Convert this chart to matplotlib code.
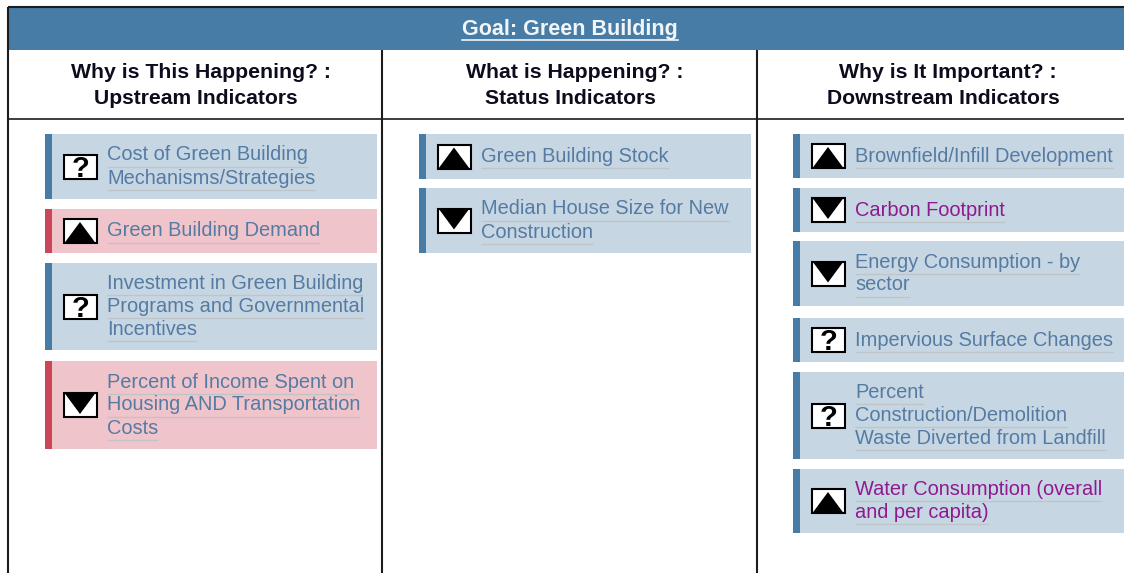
import matplotlib
matplotlib.use('Agg')
import matplotlib.pyplot as plt
from matplotlib.patches import Rectangle, Polygon

plt.rcParams['font.family'] = ['Liberation Sans', 'DejaVu Sans']

W, H = 1124, 573

goal_title = 'Goal: Green Building'
column_titles = [
    ['Why is This Happening? :', 'Upstream Indicators'],
    ['What is Happening? :', 'Status Indicators'],
    ['Why is It Important? :', 'Downstream Indicators'],
]

# indicator text, one list per column
upstream_labels = [
    ['Cost of Green Building', 'Mechanisms/Strategies'],
    ['Green Building Demand'],
    ['Investment in Green Building', 'Programs and Governmental', 'Incentives'],
    ['Percent of Income Spent on', 'Housing AND Transportation', 'Costs'],
]
status_labels = [
    ['Green Building Stock'],
    ['Median House Size for New', 'Construction'],
]
downstream_labels = [
    ['Brownfield/Infill Development'],
    ['Carbon Footprint'],
    ['Energy Consumption - by', 'sector'],
    ['Impervious Surface Changes'],
    ['Percent', 'Construction/Demolition', 'Waste Diverted from Landfill'],
    ['Water Consumption (overall', 'and per capita)'],
]

# trend: u = up, d = down, q = unknown
upstream_trend = ['q', 'u', 'q', 'd']
status_trend = ['u', 'd']
downstream_trend = ['u', 'd', 'd', 'q', 'q', 'u']

upstream_alert = [False, True, False, True]
status_alert = [False, False]
downstream_alert = [False] * 6

upstream_visited = [False] * 4
status_visited = [False] * 2
downstream_visited = [False, True, False, False, False, True]

# card top / bottom in pixels
upstream_y = [(134, 199), (209, 253), (263, 350), (361, 449)]
status_y = [(134, 179), (188, 253)]
downstream_y = [(134, 178), (188, 232), (241, 306), (318, 362), (372, 459), (469, 533)]

columns = [
    (45, 377, upstream_labels, upstream_trend, upstream_alert, upstream_visited, upstream_y),
    (419, 751, status_labels, status_trend, status_alert, status_visited, status_y),
    (793, 1124, downstream_labels, downstream_trend, downstream_alert, downstream_visited, downstream_y),
]
title_x = [196, 570, 943]

BLUE = '#467ca6'
RED = '#cb4658'
CARD_BLUE = '#c7d6e3'
CARD_RED = '#efc5cb'
LINK = '#557ba3'
VISITED = '#8f1a8f'
LINE = '#1c1c1c'


def add_underlined(ax, fig, x, y, s, color):
    t = ax.text(x, y + 5.5, s, color=color, fontsize=14.4, ha='left', va='baseline')
    bb = t.get_window_extent(fig.canvas.get_renderer())
    ax.plot([x, x + bb.width], [y + 11.5, y + 11.5], color='#bfc4c9', lw=0.9, solid_capstyle='butt')


def add_icon(ax, x, yc, kind):
    top, bottom = yc - 12, yc + 12
    left, right = x, x + 33
    box = Rectangle((left, top), 33, 24, fc='white', ec='black', lw=1.5, zorder=3)
    ax.add_patch(box)
    if kind == 'u':
        ax.add_patch(Polygon([(left + 1, bottom), (x + 16.5, top + 3), (right - 1, bottom)], fc='black', ec='none', zorder=4))
    elif kind == 'd':
        ax.add_patch(Polygon([(left + 1, top), (x + 16.5, bottom - 3), (right - 1, top)], fc='black', ec='none', zorder=4))
    else:
        q = ax.text(x + 17, yc + 10.5, '?', color='black', fontsize=21, fontweight='bold', ha='center', va='baseline', zorder=4, clip_on=True)
        q.set_clip_path(box)


fig = plt.figure(figsize=(W / 100, H / 100), dpi=100)
ax = fig.add_axes([0, 0, 1, 1])
ax.set_xlim(0, W)
ax.set_ylim(H, 0)
ax.axis('off')

# header band and table lines
ax.add_patch(Rectangle((8, 7), W - 8, 43, fc=BLUE, ec='none'))
ax.plot([8, W], [7, 7], color=LINE, lw=1.5, solid_capstyle='butt')
ax.plot([8, 8], [7, H], color=LINE, lw=1.5, solid_capstyle='butt')
ax.plot([382, 382], [50, H], color=LINE, lw=1.5, solid_capstyle='butt')
ax.plot([757, 757], [50, H], color=LINE, lw=1.5, solid_capstyle='butt')
ax.plot([8, W], [118.5, 118.5], color=LINE, lw=1.2, solid_capstyle='butt')

t = ax.text(570, 30, goal_title, color='#f2f5f8', fontsize=15.5, fontweight='bold', ha='center', va='center')
bb = t.get_window_extent(fig.canvas.get_renderer())
ax.plot([570 - bb.width / 2, 570 + bb.width / 2], [40, 40], color='#f2f5f8', lw=1.2)

for cx, lines in zip(title_x, column_titles):
    ax.text(cx + 5, 72.5, lines[0], color='#0c0c1c', fontsize=15.3, fontweight='bold', ha='center', va='center')
    ax.text(cx, 98, lines[1], color='#0c0c1c', fontsize=15.2, fontweight='bold', ha='center', va='center')

for x0, x1, labels, trend, alert, visited, ys in columns:
    for lines, kind, is_alert, is_visited, (top, bottom) in zip(labels, trend, alert, visited, ys):
        ax.add_patch(Rectangle((x0, top), x1 - x0, bottom - top, fc=CARD_RED if is_alert else CARD_BLUE, ec='none'))
        ax.add_patch(Rectangle((x0, top), 6.5, bottom - top, fc=RED if is_alert else BLUE, ec='none'))
        yc = (top + bottom) / 2
        add_icon(ax, x0 + 18.5, yc, kind)
        color = VISITED if is_visited else LINK
        y = yc - 23 * (len(lines) - 1) / 2
        for s in lines:
            add_underlined(ax, fig, x0 + 62, y, s, color)
            y += 23

fig.savefig('out.png', dpi=100)
